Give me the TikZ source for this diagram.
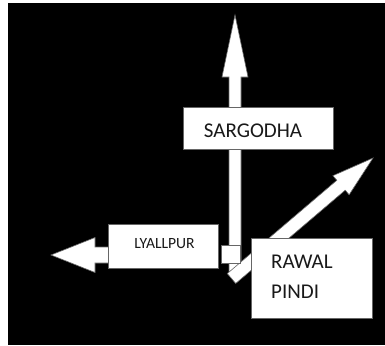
\documentclass[tikz,border=0pt]{standalone}
\usepackage{fontspec}
\setmainfont{Carlito}
\usetikzlibrary{calc}

% block arrow from #1 to #2: shaft half width #3, head length #4, head half width #5
\newcommand{\blockarrow}[5]{%
  \filldraw[fill=white, draw=black!60, line width=0.6pt]
    ($(#1)!#3!90:(#2)$) --
    ($($(#2)!#4!(#1)$)!#3!90:(#2)$) --
    ($($(#2)!#4!(#1)$)!#5!90:(#2)$) --
    (#2) --
    ($($(#2)!#4!(#1)$)!#5!-90:(#2)$) --
    ($($(#2)!#4!(#1)$)!#3!-90:(#2)$) --
    ($(#1)!#3!-90:(#2)$) -- cycle;%
}

\tikzset{
  cityboxstyle/.style={draw=black!60, line width=0.6pt, fill=white, inner sep=0pt},
  citytext/.style={inner sep=0pt, text=black!90},
}

\begin{document}
\begin{tikzpicture}[x=1pt, y=-1pt]
  \useasboundingbox (0,0) rectangle (385,345);
  \fill[white] (0,0) rectangle (385,345);
  \fill[black] (8,3) rectangle (385,345);

  % arrow ends
  \coordinate (vs) at (235,272);
  \coordinate (vt) at (235,15);
  \coordinate (ls) at (125,255);
  \coordinate (lt) at (51,255);
  \coordinate (ds) at (231.5,278.5);
  \coordinate (dt) at (373,158);

  % arrows
  \blockarrow{vs}{vt}{6pt}{62pt}{13pt}
  \blockarrow{ds}{dt}{6.5pt}{42pt}{12.5pt}
  \blockarrow{ls}{lt}{8pt}{44pt}{17.5pt}

  % boxes
  \node[cityboxstyle, minimum width=150pt, minimum height=42pt] (sarg) at (258,128) {};
  \node[citytext, anchor=base, font=\fontsize{21}{25}\selectfont] (sargt) at (253,137) {SARGODHA};

  \node[cityboxstyle, minimum width=110pt, minimum height=44pt] (lyal) at (163,246) {};
  \node[citytext, anchor=base, font=\fontsize{15.6}{19}\selectfont] (lyalt) at (164.5,248) {LYALLPUR};

  \node[cityboxstyle, minimum width=19pt, minimum height=18pt] (junc) at (230.5,254) {};

  \node[cityboxstyle, minimum width=121pt, minimum height=80pt] (rawa) at (311.5,278) {};
  \node[citytext, anchor=base west, font=\fontsize{21}{25}\selectfont] (rawt1) at (271,268) {RAWAL};
  \node[citytext, anchor=base west, font=\fontsize{21}{25}\selectfont] (rawt2) at (271,298) {PINDI};
\end{tikzpicture}
\end{document}
